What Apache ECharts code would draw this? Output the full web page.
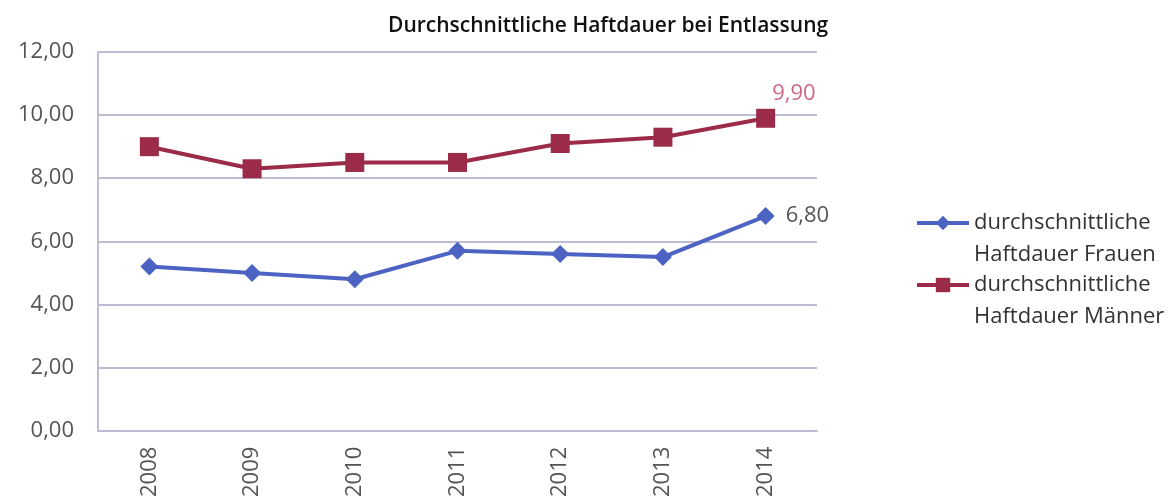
<!DOCTYPE html>
<html lang="de">
<head>
    <meta charset="UTF-8">
    <title>Haftdauer</title>
    <script src="https://cdn.jsdelivr.net/npm/echarts@6/dist/echarts.min.js"></script>
</head>
<body style="margin:0">
<div id="main" style="width: 1175px;height:500px;"></div>

<script type="text/javascript">

    var years = ['2008', '2009', '2010', '2011', '2012', '2013', '2014'];
    var frauen = [5.2, 5.0, 4.8, 5.7, 5.6, 5.5, 6.8];
    var maenner = [9.0, 8.3, 8.5, 8.5, 9.1, 9.3, 9.9];
    var seriesNames = ['durchschnittliche\nHaftdauer Frauen', 'durchschnittliche\nHaftdauer Männer'];

    function komma(v) {
        return Number(v).toFixed(2).replace('.', ',');
    }

    // nur der letzte Punkt bekommt eine Beschriftung
    function lastLabel(arr, color, offset) {
        return arr.map(function (v, i) {
            if (i < arr.length - 1) return v;
            return {
                value: v,
                label: {
                    show: true, position: 'right', offset: offset, color: color,
                    fontSize: 22, fontFamily: 'Open Sans',
                    formatter: function (p) { return komma(p.value); }
                }
            };
        });
    }

    var myChart = echarts.init(document.getElementById('main'));
    var gridColor = '#bcbcd4';

    myChart.setOption({
        animation: false,
        title: {
            text: 'Durchschnittliche Haftdauer bei Entlassung',
            left: 383, top: 11,
            textStyle: { fontFamily: 'Open Sans', fontSize: 21, fontWeight: 600, color: '#111' }
        },
        legend: {
            orient: 'vertical',
            left: 910, top: 170,
            itemWidth: 52, itemHeight: 18,
            itemGap: -34,
            data: seriesNames,
            lineStyle: { width: 4 },
            // leere erste Zeile, damit das Symbol auf Höhe der ersten Textzeile sitzt
            formatter: function (name) { return '\n' + name; },
            textStyle: {
                fontFamily: 'Open Sans', fontSize: 22, color: '#333', lineHeight: 32
            }
        },
        grid: { left: 98, right: 358, top: 52, bottom: 69 },
        xAxis: {
            type: 'category',
            data: years,
            axisLine: { lineStyle: { color: gridColor, width: 2 } },
            axisTick: { show: false },
            axisLabel: { rotate: 90, margin: 16, fontFamily: 'Open Sans', fontSize: 22, color: '#555' }
        },
        yAxis: {
            type: 'value',
            min: 0, max: 12, interval: 2,
            axisLine: { show: true, lineStyle: { color: gridColor, width: 2 } },
            splitLine: { lineStyle: { color: gridColor, width: 2 } },
            axisLabel: { margin: 24, fontFamily: 'Open Sans', fontSize: 22, color: '#555', formatter: komma }
        },
        series: [{
            name: seriesNames[0],
            type: 'line',
            data: lastLabel(frauen, '#555', [6, 0]),
            color: '#4d63c4',
            lineStyle: { width: 4 },
            symbol: 'diamond',
            symbolSize: 18
        }, {
            name: seriesNames[1],
            type: 'line',
            data: lastLabel(maenner, '#d0668c', [-8, -25]),
            color: '#9b2b49',
            lineStyle: { width: 4 },
            symbol: 'rect',
            symbolSize: 19
        }]
    });

</script>
</body>
</html>
